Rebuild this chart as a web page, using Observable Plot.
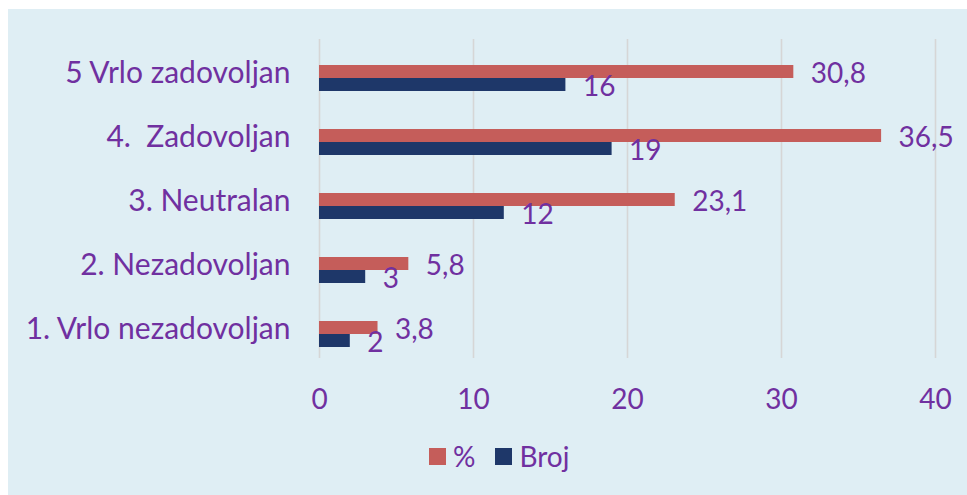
<!DOCTYPE html>
<html>
<head>
<meta charset="utf-8">
<script src="https://cdn.jsdelivr.net/npm/d3@7"></script>
<script src="https://cdn.jsdelivr.net/npm/@observablehq/plot@0.6"></script>
<style>
  html, body { margin: 0; padding: 0; background: #ffffff; }
  #wrap { position: absolute; left: 8px; top: 9px; width: 959px; height: 486px; background: #dfeef4; overflow: hidden; }
  #wrap svg text { white-space: pre; }
  #legend { position: absolute; left: 421px; top: 430px; display: flex; align-items: center; font-family: Lato, sans-serif; font-size: 28px; color: #7030a0; white-space: nowrap; }
  #legend .sw { display: inline-block; width: 17px; height: 17px; margin-right: 7px; }
  #legend .it { display: flex; align-items: center; margin-right: 20px; }
</style>
</head>
<body>
<div id="wrap"></div>
<script>
const categories = ["5 Vrlo zadovoljan", "4.  Zadovoljan", "3. Neutralan", "2. Nezadovoljan", "1. Vrlo nezadovoljan"];
const percentValues = [30.8, 36.5, 23.1, 5.8, 3.8];
const brojValues = [16, 19, 12, 3, 2];
const seriesNames = ["%", "Broj"];
const seriesColors = ["#c55d5a", "#1e3769"];
const xTicks = [0, 10, 20, 30, 40];

const purple = "#7030a0";
const fmt = v => String(v).replace(".", ",");

const pctData = categories.map((c, i) => ({category: c, value: percentValues[i]}));
const brojData = categories.map((c, i) => ({category: c, value: brojValues[i]}));

const chart = Plot.plot({
  width: 959,
  height: 420,
  marginLeft: 311,
  marginRight: 32,
  marginTop: 30,
  marginBottom: 71,
  style: {background: "transparent", fontFamily: "Lato, sans-serif", fontSize: "28px", color: purple},
  x: {domain: [0, 40], ticks: xTicks},
  y: {domain: categories, range: [37, 357], padding: 0},
  marks: [
    Plot.ruleX(xTicks, {stroke: "#d6d6d6", strokeWidth: 1.6}),
    Plot.barX(pctData, {x: "value", y: "category", fill: seriesColors[0], insetTop: 19, insetBottom: 32}),
    Plot.barX(brojData, {x: "value", y: "category", fill: seriesColors[1], insetTop: 32, insetBottom: 19}),
    Plot.text(pctData, {x: "value", y: "category", text: d => fmt(d.value), textAnchor: "start", dx: 17, dy: -4.5, fill: purple, fontSize: 28}),
    Plot.text(brojData, {x: "value", y: "category", text: d => fmt(d.value), textAnchor: "start", dx: 17, dy: 9, fill: purple, fontSize: 28}),
    Plot.axisY({tickSize: 0, tickPadding: 29, dy: -5.6, fill: purple, fontSize: 30, label: null}),
    Plot.axisX({ticks: xTicks, tickSize: 0, tickPadding: 31, fill: purple, fontSize: 28, label: null})
  ]
});

const wrap = document.getElementById("wrap");
wrap.appendChild(chart);

const legend = document.createElement("div");
legend.id = "legend";
seriesNames.forEach((name, i) => {
  const it = document.createElement("span");
  it.className = "it";
  const sw = document.createElement("span");
  sw.className = "sw";
  sw.style.background = seriesColors[i];
  const tx = document.createElement("span");
  tx.textContent = name;
  it.appendChild(sw);
  it.appendChild(tx);
  legend.appendChild(it);
});
wrap.appendChild(legend);
</script>
</body>
</html>
